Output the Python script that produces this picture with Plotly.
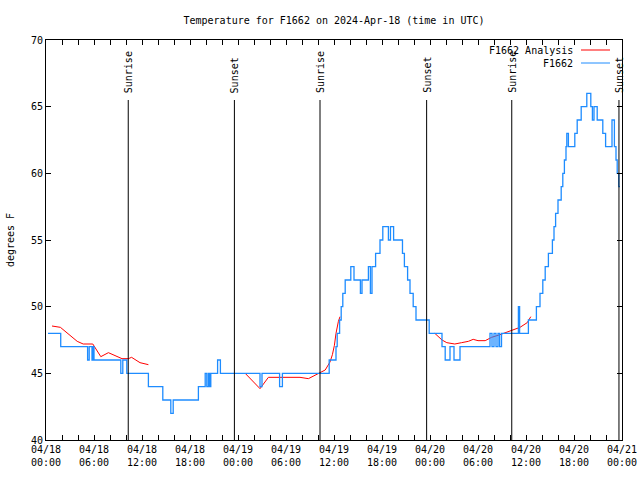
import pandas as pd
import plotly.graph_objects as go

BASE = pd.Timestamp("2024-04-18 00:00")

# Observed temperature (F1662): hours since 04/18 00:00 UTC, step values (deg F)
blue_hours = [0.25, 1.84, 5.2, 5.4, 5.75, 5.9, 6.0, 9.35, 9.6, 10.1, 12.8, 14.6, 15.6, 15.9,
              19.05, 19.9, 20.1, 20.3, 20.45, 20.6, 21.45, 21.8, 26.75, 27.0, 29.2, 29.55,
              35.4, 36.25, 36.4, 36.7, 36.9, 37.1, 37.4, 38.1, 38.5, 39.3, 39.5, 40.3, 40.55,
              40.75, 41.2, 41.75, 42.1, 42.8, 43.06, 43.45, 44.56, 44.8, 45.2, 45.5, 45.9,
              46.25, 47.9, 49.5, 49.9, 50.5, 51.0, 51.75, 55.5, 55.75, 56.0, 56.25, 56.5,
              56.7, 56.94, 59.05, 59.2, 60.3, 61.3, 61.75, 62.1, 62.4, 62.8, 63.3, 63.5,
              63.7, 64.0, 64.4, 64.6, 64.8, 65.0, 65.1, 65.3, 66.1, 66.4, 66.9, 67.6, 68.1,
              68.3, 68.5, 68.9, 69.6, 69.95, 70.75, 71.05, 71.25, 71.4, 71.6, 71.75]
blue_values = [48, 47, 46, 47, 46, 47, 46, 45, 46, 45, 44, 43, 42, 43,
               44, 45, 44, 45, 44, 45, 46, 45, 44, 45, 44, 45,
               46, 47, 48, 49, 50, 51, 52, 53, 52, 51, 52, 53, 51,
               53, 54, 55, 56, 55, 56, 55, 54, 53, 52, 51, 50,
               49, 48, 47, 46, 47, 46, 47, 48, 47, 48, 47, 48,
               47, 48, 50, 48, 49, 50, 51, 52, 53, 54, 55, 56,
               57, 58, 59, 60, 61, 62, 63, 62, 63, 64, 65, 66, 65,
               64, 65, 64, 63, 62, 64, 62, 61, 60, 59, 59]

# Analysis (F1662 Analysis): three 12-hour segments
red1_hours = [0.75, 1.8, 3.9, 4.65, 5.85, 6.85, 7.8, 9.5, 10.3, 10.7, 11.75, 12.8]
red1_values = [48.55, 48.45, 47.4, 47.2, 47.2, 46.25, 46.55, 46.1, 46.1, 46.2, 45.8, 45.65]
red2_hours = [24.9, 26.75, 27.8, 31.75, 32.8, 34.2, 34.9, 35.5, 35.8, 36.05, 36.25, 36.55, 36.75]
red2_values = [45.0, 43.85, 44.7, 44.7, 44.6, 45.05, 45.25, 45.85, 46.4, 47.1, 48.0, 48.9, 49.25]
red3_hours = [48.6, 49.5, 50.1, 51.1, 51.95, 52.8, 53.4, 54.0, 54.9, 55.7, 56.75, 58.0, 59.25, 60.15, 60.6]
red3_values = [48.0, 47.5, 47.3, 47.2, 47.3, 47.4, 47.55, 47.45, 47.45, 47.7, 47.9, 48.15, 48.45, 48.8, 49.25]

# Sun events (hours since 04/18 00:00 UTC)
event_hours = [10.28, 23.55, 34.25, 47.58, 58.22, 71.62]
event_labels = ["Sunrise", "Sunset", "Sunrise", "Sunset", "Sunrise", "Sunset"]

y_ticks = [40, 45, 50, 55, 60, 65, 70]


def to_time(hours):
    return list(BASE + pd.to_timedelta(hours, unit="h"))


red_x, red_y = [], []
for hs, vs in [(red1_hours, red1_values), (red2_hours, red2_values), (red3_hours, red3_values)]:
    red_x += to_time(hs) + [None]
    red_y += vs + [None]

FONT = "DejaVu Sans Mono"
BLUE = "#1e8cff"
RED = "#ff0000"

fig = go.Figure()
fig.add_trace(go.Scatter(x=red_x, y=red_y, mode="lines", name="F1662 Analysis",
                         line=dict(color=RED, width=1), connectgaps=False))
fig.add_trace(go.Scatter(x=to_time(blue_hours), y=blue_values, mode="lines", name="F1662",
                         line=dict(color=BLUE, width=1.3, shape="hv")))

ev_times = to_time(event_hours)
for t, lab in zip(ev_times, event_labels):
    fig.add_shape(type="line", xref="x", yref="y", x0=t, x1=t, y0=40, y1=65.5,
                  line=dict(color="black", width=1))
    fig.add_annotation(x=t, y=65.5, xref="x", yref="y", text=lab, textangle=-90,
                       showarrow=False, xanchor="center", yanchor="bottom", yshift=5,
                       font=dict(family=FONT, size=10, color="black"))

# Legend drawn gnuplot-style (text then sample line)
for i, (name, col) in enumerate([("F1662 Analysis", RED), ("F1662", BLUE)]):
    ypx = 50 + 13 * i
    yp = 1 - (ypx - 40) / 400
    fig.add_annotation(x=(575 - 46) / 576, y=yp, xref="paper", yref="paper", text=name,
                       showarrow=False, xanchor="right", yanchor="middle",
                       font=dict(family=FONT, size=10, color="black"))
    fig.add_shape(type="line", xref="paper", yref="paper",
                  x0=(581 - 46) / 576, x1=(610 - 46) / 576, y0=yp, y1=yp,
                  line=dict(color=col, width=1))

fig.update_layout(
    width=640, height=480,
    margin=dict(l=46, r=18, t=40, b=40, autoexpand=False),
    paper_bgcolor="white", plot_bgcolor="white",
    showlegend=False,
    font=dict(family=FONT, size=10, color="black"),
    title=dict(text="Temperature for F1662 on 2024-Apr-18 (time in UTC)",
               x=(46 + 622) / 2 / 640, xanchor="center", y=1 - 20 / 480, yanchor="middle",
               font=dict(family=FONT, size=10, color="black")),
)
fig.update_xaxes(
    type="date", automargin=False,
    range=[BASE, BASE + pd.Timedelta(hours=72)],
    tickmode="linear", tick0=BASE, dtick=6 * 3600 * 1000,
    tickformat="%m/%d<br>%H:%M",
    ticks="inside", ticklen=5, tickcolor="black",
    minor=dict(ticks="inside", ticklen=5, dtick=2 * 3600 * 1000, tickcolor="black"),
    showline=True, linecolor="black", linewidth=1, mirror="ticks",
    showgrid=False, zeroline=False,
    tickfont=dict(family=FONT, size=10, color="black"),
)
fig.update_yaxes(
    automargin=False,
    range=[40, 70], tickvals=y_ticks,
    ticks="inside", ticklen=5, tickcolor="black",
    showline=True, linecolor="black", linewidth=1, mirror="ticks",
    showgrid=False, zeroline=False,
    title=dict(text="degrees F", font=dict(family=FONT, size=10, color="black"), standoff=14),
    tickfont=dict(family=FONT, size=10, color="black"),
)

fig.write_html("out.html", config={"displayModeBar": False},
               post_script="document.body.style.margin='0';")
